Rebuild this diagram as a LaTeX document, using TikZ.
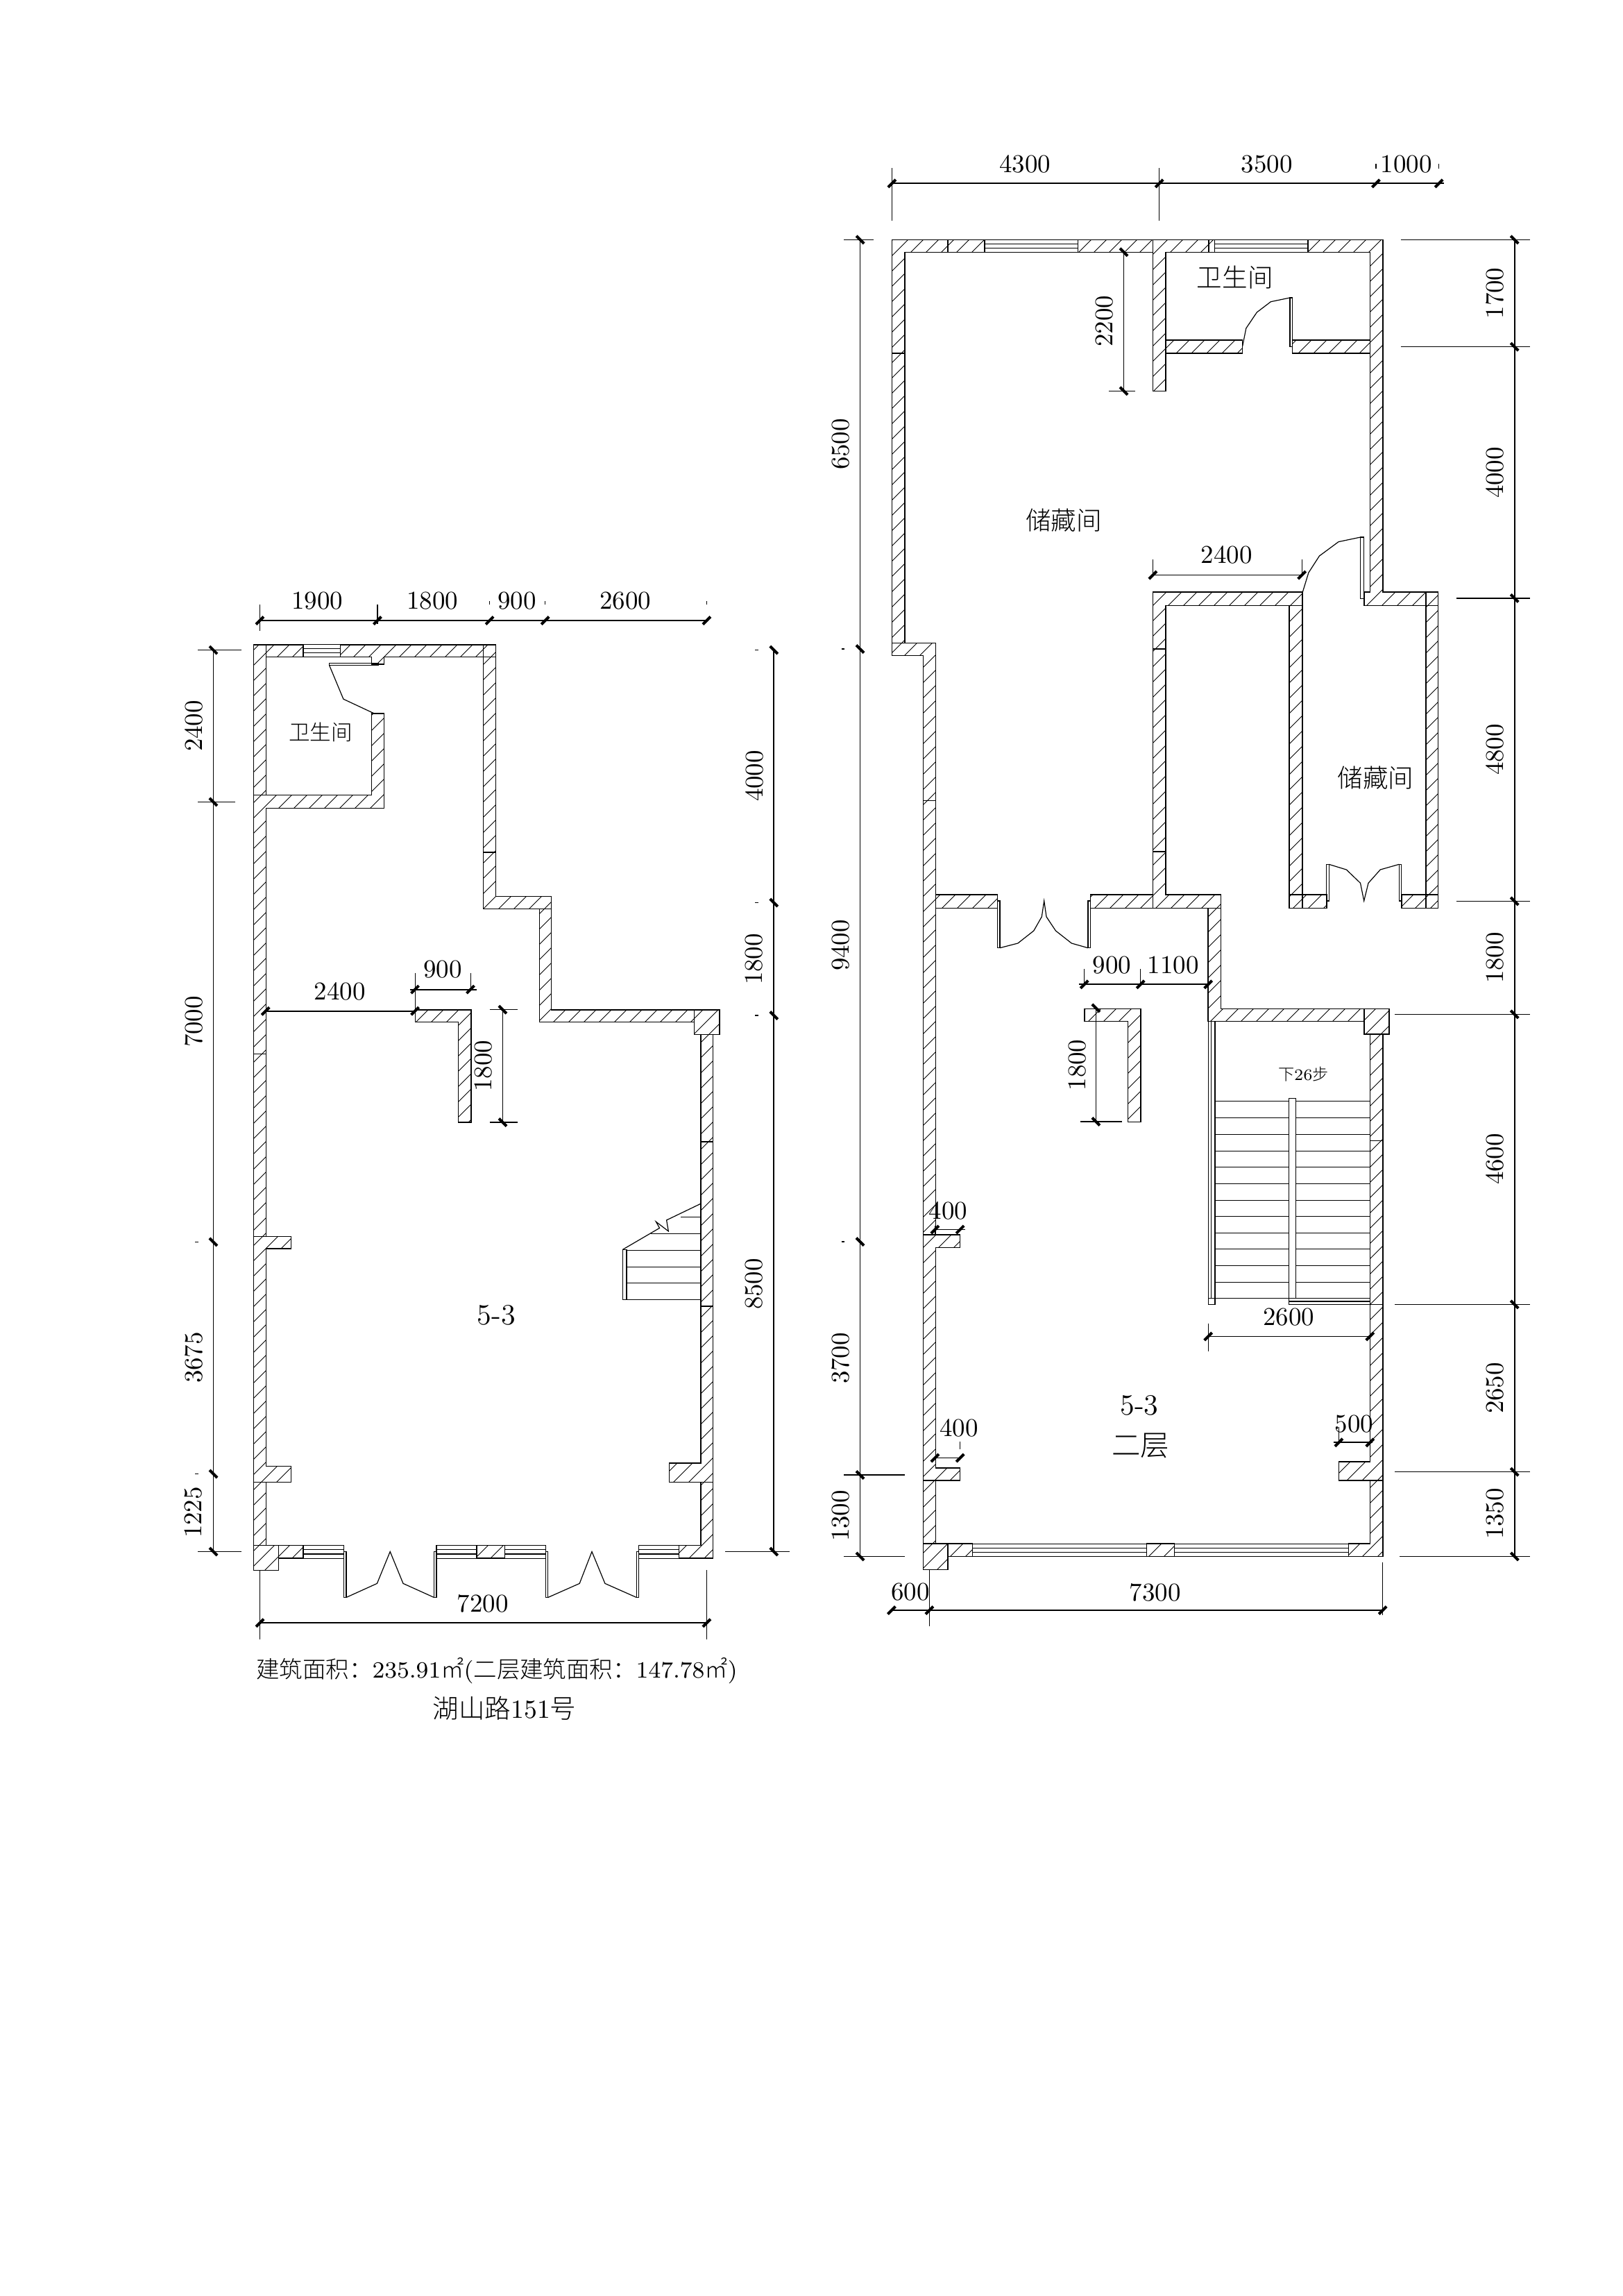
\documentclass[tikz,border=0pt]{standalone}
\usepackage{graphicx}
\usepackage{fontspec}
\newfontfamily\cjk{Noto Sans CJK SC Light}
\newcommand{\pxfont}[1]{\fontsize{#1}{#1}\selectfont}
\tikzset{
  wall/.style={draw=black,line width=0.45pt,line join=miter},
  hatchline/.style={draw=black,line width=0.24pt},
  thinline/.style={draw=black,line width=0.34pt},
  dimline/.style={draw=black,line width=0.5pt},
  extline/.style={draw=black,line width=0.36pt},
  dimtick/.style={draw=black,line width=1.15pt},
  dimtext/.style={inner sep=0pt,font=\pxfont{10.5pt}},
  dimrot/.style={dimtext,rotate=90},
  bigtext/.style={inner sep=0pt,font=\pxfont{12pt}},
  cjk36/.style={inner sep=0pt,font=\cjk\pxfont{10.4pt}},
  cjk30/.style={inner sep=0pt,font=\cjk\pxfont{8.7pt}},
  cjk23/.style={inner sep=0pt,font=\pxfont{6.6pt}},
}
\newcommand{\tickH}[2]{\draw[dimtick,shift={(#1,#2)}] (-5.5,5.5)--(5.5,-5.5);}
\newcommand{\tickV}[2]{\draw[dimtick,shift={(#1,#2)}] (-5.5,-5.5)--(5.5,5.5);}
\newcommand{\windowH}[4]{%
  \draw[thinline] (#1,#3) rectangle (#2,#4);
  \draw[thinline] (#1,{#3+(#4-#3)/3})--(#2,{#3+(#4-#3)/3});
  \draw[thinline] (#1,{#3+2*(#4-#3)/3})--(#2,{#3+2*(#4-#3)/3});}
\def\allwalls{%
 % ---- left plan
 (365.3,928.7) rectangle (383.7,1145.5)
 (383.7,928.7) rectangle (437.2,946.5)
 (490.3,928.7)--(696.4,928.7)--(696.4,946.5)--(553.6,946.5)--(553.6,956.7)--(535.7,956.7)--(535.7,946.5)--(490.3,946.5)--cycle
 (696.4,928.7) rectangle (714.3,946.5)
 (696.4,946.5) rectangle (714.3,1227.7)
 (696.4,1227.7)--(714.3,1227.7)--(714.3,1291.4)--(794.4,1291.4)--(794.4,1309.3)--(696.4,1309.3)--cycle
 (777.6,1309.3)--(794.4,1309.3)--(794.4,1454.7)--(1000.5,1454.7)--(1000.5,1472.6)--(777.6,1472.6)--cycle
 (1000.5,1454.7)--(1036.7,1454.7)--(1036.7,1490.4)--(1000.5,1490.4)--cycle
 (1009.7,1490.4) rectangle (1027.6,1644.8)
 (1009.7,1644.8) rectangle (1027.6,1881.9)
 (1009.7,1881.9)--(1027.6,1881.9)--(1027.6,2135.6)--(964.3,2135.6)--(964.3,2108)--(1009.7,2108)--cycle
 (1009.7,2135.6)--(1027.6,2135.6)--(1027.6,2245.2)--(978.6,2245.2)--(978.6,2226.3)--(1009.7,2226.3)--cycle
 (401.5,2226.3) rectangle (437.2,2245.2)
 (687.2,2226.3) rectangle (727.6,2245.2)
 (365.3,2226.3) rectangle (401.5,2262.5)
 (365.3,1145.5)--(535.7,1145.5)--(535.7,1028.2)--(553.6,1028.2)--(553.6,1164.4)--(383.7,1164.4)--(383.7,1518.5)--(365.3,1518.5)--cycle
 (365.3,1518.5) rectangle (383.7,1781.4)
 (365.3,1781.4)--(419.4,1781.4)--(419.4,1799.2)--(383.7,1799.2)--(383.7,2112.6)--(419.4,2112.6)--(419.4,2135.6)--(365.3,2135.6)--cycle
 (365.3,2135.6) rectangle (383.7,2226.3)
 (598.5,1454.7)--(679.1,1454.7)--(679.1,1617)--(660.7,1617)--(660.7,1472.6)--(598.5,1472.6)--cycle
 % ---- right plan
 (1285.4,345.4)--(1365.8,345.4)--(1365.8,363.3)--(1303.8,363.3)--(1303.8,509.2)--(1285.4,509.2)--cycle
 (1365.8,345.4) rectangle (1419.2,363.3)
 (1553.5,345.4) rectangle (1661.4,363.3)
 (1661.4,345.4)--(1741.8,345.4)--(1741.8,363.3)--(1679.8,363.3)--(1679.8,563.3)--(1661.4,563.3)--cycle
 (1679.8,489.8) rectangle (1790.6,508.7)
 (1741.8,345.4) rectangle (1750.4,363.3)
 (1884.8,345.4)--(1992.7,345.4)--(1992.7,853.1)--(2054.7,853.1)--(2054.7,872.4)--(1965.7,872.4)--(1965.7,853.1)--(1974.3,853.1)--(1974.3,363.3)--(1884.8,363.3)--cycle
 (1862.4,489.8) rectangle (1974.3,508.7)
 (2054.7,853.1) rectangle (2072.5,872.4)
 (2054.7,872.4) rectangle (2072.5,1289.2)
 (2054.7,1289.2) rectangle (2072.5,1308.6)
 (2019.7,1289.2) rectangle (2054.7,1308.6)
 (1661.4,853.1)--(1876.7,853.1)--(1876.7,872.4)--(1679.8,872.4)--(1679.8,935.1)--(1661.4,935.1)--cycle
 (1857.8,872.4) rectangle (1876.7,1289.2)
 (1857.8,1289.2) rectangle (1876.7,1308.6)
 (1876.7,1289.2) rectangle (1911.7,1308.6)
 (1661.4,935.1) rectangle (1679.8,1226.9)
 (1348.6,1289.2) rectangle (1437.6,1308.6)
 (1571.3,1289.2) rectangle (1661.4,1308.6)
 (1661.4,1226.9)--(1679.8,1226.9)--(1679.8,1289.2)--(1759.6,1289.2)--(1759.6,1308.6)--(1661.4,1308.6)--cycle
 (1741.2,1308.6)--(1759.6,1308.6)--(1759.6,1453.5)--(1965.7,1453.5)--(1965.7,1471.3)--(1741.2,1471.3)--cycle
 (1965.7,1453.5)--(2001.9,1453.5)--(2001.9,1489.7)--(1965.7,1489.7)--cycle
 (1974.3,1489.7) rectangle (1992.7,1643.6)
 (1974.3,1643.6) rectangle (1992.7,1879.4)
 (1974.3,1879.4)--(1992.7,1879.4)--(1992.7,2133)--(1929.5,2133)--(1929.5,2106)--(1974.3,2106)--cycle
 (1974.3,2133)--(1992.7,2133)--(1992.7,2242.5)--(1943.3,2242.5)--(1943.3,2224.1)--(1974.3,2224.1)--cycle
 (1652.3,2224.1) rectangle (1692.4,2242.5)
 (1365.8,2224.1) rectangle (1401.4,2242.5)
 (1330.5,2224.1) rectangle (1365.8,2261.5)
 (1285.4,509.2) rectangle (1303.8,926.5)
 (1285.4,926.5)--(1348.6,926.5)--(1348.6,1153.5)--(1330.5,1153.5)--(1330.5,944.4)--(1285.4,944.4)--cycle
 (1330.5,1153.5) rectangle (1348.6,1779.1)
 (1330.5,1779.1)--(1383.6,1779.1)--(1383.6,1797.6)--(1348.6,1797.6)--(1348.6,2115.2)--(1383.6,2115.2)--(1383.6,2133)--(1330.5,2133)--cycle
 (1330.5,2133) rectangle (1348.6,2224.1)
 (1562.7,1453.5)--(1643.7,1453.5)--(1643.7,1616.5)--(1625.3,1616.5)--(1625.3,1471.3)--(1562.7,1471.3)--cycle
}
\begin{document}
\begin{tikzpicture}[x=0.01cm,y=-0.01cm]
\path[fill=white,use as bounding box] (0,0) rectangle (2339,3308);

% ---------- hatching of all walls
\begin{scope}
  \clip \allwalls;
  \foreach \c in {1280,1302,...,4400}
    \draw[hatchline] (\c,0)--({\c-3308},3308);
\end{scope}
\draw[wall] \allwalls;

% ---------- left plan: windows
\windowH{437.2}{490.3}{928.7}{946.5}
\windowH{437.2}{495.4}{2226.3}{2245.2}
\windowH{629}{687.2}{2226.3}{2245.2}
\windowH{727.6}{786.7}{2226.3}{2245.2}
\windowH{920.4}{978.6}{2226.3}{2245.2}

% ---------- left plan: doors
\draw[thinline] (474.5,955.2) rectangle (544.9,958.3);
\draw[thinline] (474.5,958.3)--(494.9,1007.2)--(539.8,1028.2);
\draw[thinline] (495.4,2235.5) rectangle (499,2301.5);
\draw[thinline] (625.5,2235.5) rectangle (629,2301.5);
\draw[thinline] (499,2301.5)--(543.4,2281.4)--(562.2,2235.5)--(581,2281.4)--(625.5,2301.5);
\draw[thinline] (786.7,2235.5) rectangle (789.8,2301.5);
\draw[thinline] (917.3,2235.5) rectangle (920.4,2301.5);
\draw[thinline] (789.8,2301.5)--(835.2,2281.4)--(853,2235.5)--(871.9,2281.4)--(917.3,2301.5);

% ---------- left plan: stair
\draw[thinline] (897.4,1800.3) rectangle (903,1872.7);
\draw[thinline] (897.4,1872.7)--(1009.7,1872.7);
\draw[thinline] (903,1848.6)--(1009.7,1848.6);
\draw[thinline] (903,1825.6)--(1009.7,1825.6);
\draw[thinline] (903,1801.5)--(1009.7,1801.5);
\draw[thinline] (937.8,1777.4)--(1009.7,1777.4);
\draw[thinline] (981,1753.8)--(1009.7,1753.8);
\draw[thinline] (897.4,1800.3)--(950.5,1769.3)--(945.4,1760.2)--(963.3,1773.9)--(960.6,1757.9)--(1009.7,1734.3);

% ---------- left plan: dimensions
\draw[dimline] (374.5,894)--(1018.4,894);
\tickH{374.5}{894}\tickH{543.9}{894}\tickH{705.6}{894}\tickH{785.7}{894}\tickH{1018.4}{894}
\draw[extline] (374.5,871)--(374.5,909);
\draw[extline] (543.9,871)--(543.9,899);
\draw[extline] (705.6,866)--(705.6,871);
\draw[extline] (785.7,866)--(785.7,871);
\draw[extline] (1018.4,866)--(1018.4,871);
\node[dimtext] (lt1) at (457,866) {1900};
\node[dimtext] (lt2) at (623,866) {1800};
\node[dimtext] (lt3) at (745,866) {900};
\node[dimtext] (lt4) at (901,866) {2600};

\draw[dimline] (307.5,936.6)--(307.5,2235.5);
\tickV{307.5}{936.6}\tickV{307.5}{1155.4}\tickV{307.5}{1789.4}\tickV{307.5}{2123.5}\tickV{307.5}{2235.5}
\draw[extline] (285,936.6)--(348.3,936.6);
\draw[extline] (285,1155.4)--(339,1155.4);
\draw[extline] (285,2235.5)--(348.3,2235.5);
\draw[extline] (281,1789.4)--(286,1789.4);
\draw[extline] (281,2123.5)--(286,2123.5);
\node[dimrot] (ll1) at (279,1046) {2400};
\node[dimrot] (ll2) at (279,1472) {7000};
\node[dimrot] (ll3) at (279,1956) {3675};
\node[dimrot] (ll4) at (279,2179) {1225};

\draw[dimline] (1115.3,936.6)--(1115.3,2235.5);
\tickV{1115.3}{936.6}\tickV{1115.3}{1300.5}\tickV{1115.3}{1463}\tickV{1115.3}{2235.5}
\draw[extline] (1088,936.6)--(1093,936.6);
\draw[extline] (1088,1300.5)--(1093,1300.5);
\draw[extline] (1088,1463)--(1093,1463);
\draw[extline] (1045,2235.5)--(1138,2235.5);
\node[dimrot] (lr1) at (1087,1118) {4000};
\node[dimrot] (lr2) at (1087,1382) {1800};
\node[dimrot] (lr3) at (1087,1850) {8500};

\draw[dimline] (382.7,1456.7)--(598,1456.7);
\tickH{382.7}{1456.7}\tickH{598}{1456.7}
\node[dimtext] (li1) at (489.8,1428.2) {2400};
\draw[dimline] (590.8,1425.6)--(686.7,1425.6);
\tickH{598}{1425.6}\tickH{678}{1425.6}
\draw[extline] (598.5,1401.6)--(598.5,1454.7);
\draw[extline] (678.6,1401.6)--(678.6,1425.6);
\node[dimtext] (li2) at (637.8,1397) {900};
\draw[dimline] (724.5,1454.7)--(724.5,1617);
\tickV{724.5}{1454.7}\tickV{724.5}{1617}
\draw[extline] (705.6,1454.7)--(746.4,1454.7);
\draw[extline] (705.6,1617)--(746.4,1617);
\node[dimrot] (li3) at (696.9,1535.8) {1800};

\draw[dimline] (374.5,2338.2)--(1018.4,2338.2);
\tickH{374.5}{2338.2}\tickH{1018.4}{2338.2}
\draw[extline] (374.5,2262.5)--(374.5,2362.3);
\draw[extline] (1018.4,2262)--(1018.4,2362.3);
\node[dimtext] (lb1) at (695.9,2310) {7200};

% ---------- left plan: room texts
\node[cjk30] (lwc) at (462.2,1054.7) {卫生间};
\node[bigtext] (lunit) at (715.3,1894.5) {5-3};
\node[inner sep=0pt] (cap1) at (716,2406.6) {\resizebox{6.93cm}{!}{\pxfont{8.1pt}{\cjk 建筑面积：}235.91{\cjk ㎡}({\cjk 二层建筑面积：}147.78{\cjk ㎡})}};
\node[inner sep=0pt,font=\pxfont{10.7pt}] (cap2) at (727,2461) {{\cjk 湖山路}151{\cjk 号}};

% ---------- right plan: windows
\windowH{1419.2}{1553.5}{345.4}{363.3}
\windowH{1750.4}{1884.8}{345.4}{363.3}
\windowH{1401.4}{1652.3}{2224.1}{2242.5}
\windowH{1692.4}{1943.3}{2224.1}{2242.5}

% ---------- right plan: doors
\draw[thinline] (1858.9,429) rectangle (1862.4,499.5);
\draw[thinline] (1858.9,429)--(1831.4,434.7)--(1811.3,450)--(1795.8,473)--(1790.6,499);
\draw[thinline] (1960.5,774) rectangle (1965.7,862.2);
\draw[thinline] (1960.5,774)--(1929,780.6)--(1901.4,801)--(1885.9,825)--(1877.3,853);
\draw[thinline] (1911.7,1245.3) rectangle (1915.2,1297.9);
\draw[thinline] (2016.2,1245.3) rectangle (2019.7,1297.9);
\draw[thinline] (1915.2,1245.3)--(1940.4,1253)--(1960.5,1272.3)--(1965.7,1297.9)--(1972,1272.3)--(1989.2,1253)--(2016.2,1245.3);
\draw[thinline] (1437.6,1297.9) rectangle (1441,1365.7);
\draw[thinline] (1567.9,1297.9) rectangle (1571.3,1365.7);
\draw[thinline] (1441,1365.7)--(1466.9,1359)--(1489.8,1341)--(1501.3,1320.8)--(1504.7,1297.9)--(1508,1320.8)--(1521.4,1341)--(1544.3,1359)--(1567.9,1365.7);

% ---------- right plan: stair
\draw[thinline] (1745.8,1471.3)--(1745.8,1870.7);
\draw[thinline] (1751,1471.3)--(1751,1870.7);
\draw[thinline] (1741.2,1471.3)--(1741.2,1879.4);
\draw[thinline] (1741.2,1870.7) rectangle (1751,1879.4);
\draw[thinline] (1857.8,1582.4) rectangle (1867.5,1870.7);
\draw[thinline] (1857.8,1870.7) rectangle (1974.3,1879.4);
\draw[thinline] (1857.8,1875)--(1974.3,1875);
\draw[thinline] (1751,1870.7)--(1857.8,1870.7);
\foreach \ty in {1586.7,1610.6,1634.4,1658.3,1681.6,1705.4,1729.3,1752.6,1776.4,1799.7,1823.6,1847.4}{
  \draw[thinline] (1751,\ty)--(1857.8,\ty);
  \draw[thinline] (1867.5,\ty)--(1974.3,\ty);
}

% ---------- right plan: dimensions
\draw[dimline] (1285.4,264.3)--(2081,264.3);
\tickH{1285.4}{264.3}\tickH{1670.6}{264.3}\tickH{1982.9}{264.3}\tickH{2073.6}{264.3}
\draw[extline] (1285.4,241.8)--(1285.4,318.4);
\draw[extline] (1670.6,241.8)--(1670.6,318.4);
\draw[extline] (1982.9,236)--(1982.9,243);
\draw[extline] (2073.6,236)--(2073.6,243);
\node[dimtext] (rt1) at (1477,236.7) {4300};
\node[dimtext] (rt2) at (1825.6,236.7) {3500};
\node[dimtext] (rt3) at (2026.6,236.7) {1000};

\draw[dimline] (1239.6,345.4)--(1239.6,2242.5);
\tickV{1239.6}{345.4}\tickV{1239.6}{935}\tickV{1239.6}{1789}\tickV{1239.6}{2125}\tickV{1239.6}{2242.5}
\draw[extline] (1216,345.4)--(1259.3,345.4);
\draw[extline] (1212.7,935)--(1217,935);
\draw[extline] (1212.7,1789)--(1217,1789);
\draw[extline] (1216,2125)--(1303.8,2125);
\draw[extline] (1216,2242.5)--(1303.8,2242.5);
\node[dimrot] (rl1) at (1211.7,640) {6500};
\node[dimrot] (rl2) at (1211.7,1362) {9400};
\node[dimrot] (rl3) at (1211.7,1957) {3700};
\node[dimrot] (rl4) at (1211.7,2184) {1300};

\draw[dimline] (2182.7,345.4)--(2182.7,2242.5);
\foreach \ty in {345.4,499.7,862,1298.4,1461.4,1879.4,2120.6,2242.5}{\tickV{2182.7}{\ty}}
\draw[extline] (2018.7,345.4)--(2205,345.4);
\draw[extline] (2018.7,499.7)--(2205,499.7);
\draw[extline] (2098.7,862)--(2205,862);
\draw[extline] (2098.7,1298.4)--(2205,1298.4);
\draw[extline] (2010,1461.4)--(2205,1461.4);
\draw[extline] (2010,1879.4)--(2205,1879.4);
\draw[extline] (2010,2120.6)--(2205,2120.6);
\draw[extline] (2017.3,2242.5)--(2205,2242.5);
\node[dimrot] (rr1) at (2154.3,422.5) {1700};
\node[dimrot] (rr2) at (2154.3,681) {4000};
\node[dimrot] (rr3) at (2154.3,1080) {4800};
\node[dimrot] (rr4) at (2154.3,1380) {1800};
\node[dimrot] (rr5) at (2154.3,1670) {4600};
\node[dimrot] (rr6) at (2154.3,2000) {2650};
\node[dimrot] (rr7) at (2154.3,2181) {1350};

\draw[dimline] (1619.5,363.3)--(1619.5,563.3);
\tickV{1619.5}{363.3}\tickV{1619.5}{563.3}
\draw[extline] (1597.7,563.3)--(1635.6,563.3);
\node[dimrot] (ri1) at (1592,462.8) {2200};

\draw[dimline] (1661.4,828.6)--(1876.1,828.6);
\tickH{1661.4}{828.6}\tickH{1876.1}{828.6}
\draw[extline] (1661.4,806)--(1661.4,828.6);
\draw[extline] (1876.7,806)--(1876.7,828.6);
\node[dimtext] (ri2) at (1767.6,799.5) {2400};

\draw[dimline] (1554.7,1418.3)--(1741.2,1418.3);
\tickH{1562.7}{1418.3}\tickH{1643.7}{1418.3}\tickH{1741.2}{1418.3}
\draw[extline] (1562.7,1395.8)--(1562.7,1418.3);
\draw[extline] (1643.7,1395.8)--(1643.7,1418.3);
\node[dimtext] (ri3) at (1602.3,1390.7) {900};
\node[dimtext] (ri4) at (1690.7,1390.7) {1100};

\draw[dimline] (1579.4,1452.4)--(1579.4,1616);
\tickV{1579.4}{1452.4}\tickV{1579.4}{1616}
\draw[extline] (1557,1616)--(1617.2,1616);
\node[dimrot] (ri5) at (1553,1534.5) {1800};

\draw[dimline] (1347.4,1771.5)--(1391,1771.5);
\tickH{1347.4}{1771.5}\tickH{1383.6}{1771.5}
\draw[extline] (1347.4,1765.6)--(1347.4,1779.1);
\node[dimtext] (ri6) at (1366.4,1743.9) {400};

\draw[dimline] (1347.4,2100.5)--(1383.6,2100.5);
\tickH{1347.4}{2100.5}\tickH{1383.6}{2100.5}
\draw[extline] (1383.6,2077)--(1383.6,2088);
\node[dimtext] (ri7) at (1381.9,2057) {400};

\draw[dimline] (1921.5,2078.3)--(1977.8,2078.3);
\tickH{1929.5}{2078.3}\tickH{1974.3}{2078.3}
\draw[extline] (1929.5,2055.6)--(1929.5,2078.3);
\node[dimtext] (ri8) at (1951.3,2051.8) {500};

\draw[dimline] (1741.2,1925.5)--(1974.3,1925.5);
\tickH{1741.2}{1925.5}\tickH{1974.3}{1925.5}
\draw[extline] (1741.2,1906.5)--(1741.2,1947);
\node[dimtext] (ri9) at (1857.2,1897.3) {2600};

\draw[dimline] (1284.9,2320)--(1992.7,2320);
\tickH{1284.9}{2320}\tickH{1339.4}{2320}\tickH{1992.7}{2320}
\draw[extline] (1339.4,2261.5)--(1339.4,2342.8);
\draw[extline] (1992.7,2250.7)--(1992.7,2326.6);
\node[dimtext] (rb1) at (1664.9,2294) {7300};
\node[dimtext] (rb2) at (1311.8,2294) {600};

% ---------- right plan: room texts
\node[cjk36] (rwc) at (1779.7,400) {卫生间};
\node[cjk36] (rst1) at (1532.9,750) {储藏间};
\node[cjk36] (rst2) at (1982.3,1120.3) {储藏间};
\node[cjk23] (rdown) at (1878.4,1547.7) {{\cjk 下}26{\cjk 步}};
\node[bigtext] (runit) at (1642,2024.7) {5-3};
\node[inner sep=0pt,font=\cjk\pxfont{11.8pt}] (rfloor) at (1643.7,2082.7) {二层};
\end{tikzpicture}
\end{document}
